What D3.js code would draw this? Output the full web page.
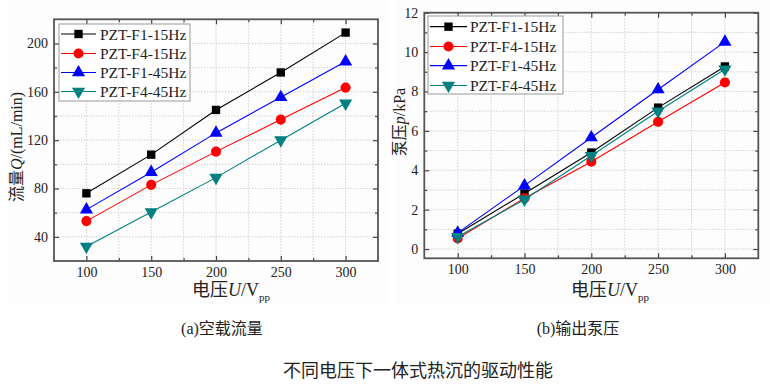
<!DOCTYPE html>
<html>
<head>
<meta charset="utf-8">
<script src="https://cdn.jsdelivr.net/npm/d3@7"></script>
<style>
  body { margin: 0; background: #fff; }
  svg { display: block; }
  text { font-family: "Liberation Serif", "Times New Roman", "Noto Sans CJK SC", serif; fill: #222; }
  .cjk { font-family: "Liberation Serif", "Noto Sans CJK SC", serif; }
</style>
</head>
<body>
<svg id="chart" width="770" height="388"></svg>
<script>
// voltage values (V pp)
var voltages = [100, 150, 200, 250, 300];
var seriesNames = ["PZT-F1-15Hz", "PZT-F4-15Hz", "PZT-F1-45Hz", "PZT-F4-45Hz"];
var seriesColors = ["#000000", "#ff0000", "#0000ff", "#008080"];
var seriesShapes = ["square", "circle", "triangle", "triangleDown"];

// (a) flow Q, mL/min
var flowF1_15 = [76, 108, 145, 176, 209];
var flowF4_15 = [53, 83, 110.5, 137, 163.5];
var flowF1_45 = [62.5, 93.5, 126, 155.5, 185];
var flowF4_45 = [32, 60.5, 89, 120, 150.5];

// (b) pump pressure p, kPa
var pressF1_15 = [0.78, 2.82, 4.9, 7.18, 9.27];
var pressF4_15 = [0.54, 2.58, 4.43, 6.46, 8.46];
var pressF1_45 = [0.82, 3.22, 5.66, 8.1, 10.52];
var pressF4_45 = [0.62, 2.52, 4.74, 7.0, 9.13];

var xMajor = [100, 150, 200, 250, 300];
var xMinor = [75, 125, 175, 225, 275, 325];
var flowMajor = [40, 80, 120, 160, 200];
var flowMinor = [20, 60, 100, 140, 180, 220];
var pressMajor = [0, 2, 4, 6, 8, 10, 12];
var pressMinor = [1, 3, 5, 7, 9, 11];

var svg = d3.select("#chart");

// faint panel backgrounds
svg.append("rect").attr("x", 7).attr("y", 0).attr("width", 379).attr("height", 304).attr("fill", "#fdfdfd");
svg.append("rect").attr("x", 395).attr("y", 0).attr("width", 375).attr("height", 304).attr("fill", "#fdfdfd");

function marker(shape) {
    var t = {square: d3.symbolSquare, circle: d3.symbolCircle, triangle: d3.symbolTriangle, triangleDown: d3.symbolTriangle}[shape];
    var size = shape === "circle" ? 80 : (shape === "square" ? 70 : 75);
    return d3.symbol().type(t).size(size)();
}

function drawPanel(cfg) {
    var g = svg.append("g");
    var x = d3.scaleLinear().domain([75, 325]).range([cfg.left, cfg.right]);
    var y = d3.scaleLinear().domain(cfg.yDomain).range([cfg.bottom, cfg.top]);

    // grid
    var grid = g.append("g").attr("stroke", "#c8c8c8").attr("stroke-width", 0.8).attr("stroke-dasharray", "1.5,1.5");
    xMajor.concat(xMinor).forEach(function(v) {
        if (v <= 75 || v >= 325) return;
        grid.append("line").attr("x1", x(v)).attr("x2", x(v)).attr("y1", cfg.top).attr("y2", cfg.bottom);
    });
    cfg.yMajor.concat(cfg.yMinor).forEach(function(v) {
        if (v <= cfg.yDomain[0] || v >= cfg.yDomain[1]) return;
        grid.append("line").attr("x1", cfg.left).attr("x2", cfg.right).attr("y1", y(v)).attr("y2", y(v));
    });

    var yMinorIn = cfg.yMinor.filter(function(v){ return v > cfg.yDomain[0] && v < cfg.yDomain[1]; });

    // axes with inward ticks
    g.append("g").attr("transform", "translate(0," + cfg.bottom + ")")
        .call(d3.axisBottom(x).tickValues(xMajor).tickSizeInner(-5).tickSizeOuter(0).tickPadding(6));
    g.append("g").attr("transform", "translate(0," + cfg.top + ")")
        .call(d3.axisTop(x).tickValues(xMajor).tickSizeInner(-5).tickSizeOuter(0).tickFormat(""));
    g.append("g").attr("transform", "translate(" + cfg.left + ",0)")
        .call(d3.axisLeft(y).tickValues(cfg.yMajor).tickSizeInner(-5).tickSizeOuter(0).tickPadding(6));
    g.append("g").attr("transform", "translate(" + cfg.right + ",0)")
        .call(d3.axisRight(y).tickValues(cfg.yMajor).tickSizeInner(-5).tickSizeOuter(0).tickFormat(""));
    // minor ticks
    g.append("g").attr("transform", "translate(0," + cfg.bottom + ")")
        .call(d3.axisBottom(x).tickValues(xMinor.slice(1, -1)).tickSizeInner(-3).tickSizeOuter(0).tickFormat(""));
    g.append("g").attr("transform", "translate(0," + cfg.top + ")")
        .call(d3.axisTop(x).tickValues(xMinor.slice(1, -1)).tickSizeInner(-3).tickSizeOuter(0).tickFormat(""));
    g.append("g").attr("transform", "translate(" + cfg.left + ",0)")
        .call(d3.axisLeft(y).tickValues(yMinorIn).tickSizeInner(-3).tickSizeOuter(0).tickFormat(""));
    g.append("g").attr("transform", "translate(" + cfg.right + ",0)")
        .call(d3.axisRight(y).tickValues(yMinorIn).tickSizeInner(-3).tickSizeOuter(0).tickFormat(""));

    g.selectAll(".domain").remove();
    g.selectAll(".tick line").attr("stroke", "#444").attr("stroke-width", 1.2);
    g.selectAll(".tick text").attr("font-family", "Liberation Serif").attr("font-size", 14).attr("fill", "#222");

    // frame
    g.append("rect").attr("x", cfg.left).attr("y", cfg.top)
        .attr("width", cfg.right - cfg.left).attr("height", cfg.bottom - cfg.top)
        .attr("fill", "none").attr("stroke", "#555").attr("stroke-width", 1.8);

    // series
    cfg.series.forEach(function(vals, i) {
        var pts = voltages.map(function(v, j) { return [x(v), y(vals[j])]; });
        g.append("path").attr("d", d3.line()(pts)).attr("fill", "none")
            .attr("stroke", seriesColors[i]).attr("stroke-width", 1.1);
        pts.forEach(function(p) {
            g.append("path").attr("d", marker(seriesShapes[i]))
                .attr("transform", "translate(" + p[0] + "," + p[1] + ")" + (seriesShapes[i] === "triangleDown" ? " rotate(180)" : ""))
                .attr("fill", seriesColors[i]);
        });
    });

    // legend
    var lg = cfg.legend;
    g.append("rect").attr("x", lg.x).attr("y", lg.y).attr("width", lg.w).attr("height", lg.h)
        .attr("fill", "#fff").attr("stroke", "#999").attr("stroke-width", 1);
    seriesNames.forEach(function(name, i) {
        var ry = lg.rows[i];
        g.append("line").attr("x1", lg.lineX0).attr("x2", lg.lineX1).attr("y1", ry).attr("y2", ry)
            .attr("stroke", seriesColors[i]).attr("stroke-width", 1.2);
        g.append("path").attr("d", marker(seriesShapes[i]))
            .attr("transform", "translate(" + ((lg.lineX0 + lg.lineX1) / 2) + "," + ry + ")" + (seriesShapes[i] === "triangleDown" ? " rotate(180)" : ""))
            .attr("fill", seriesColors[i]);
        g.append("text").attr("x", lg.textX).attr("y", ry + 5.5).attr("font-size", 15.5).text(name);
    });

    // y label
    var yl = g.append("text").attr("class", "cjk").attr("font-size", 16).attr("text-anchor", "middle")
        .attr("transform", "translate(" + cfg.yLabelX + "," + cfg.yLabelY + ") rotate(-90)");
    yl.append("tspan").text(cfg.yLabel[0]);
    yl.append("tspan").attr("font-style", "italic").text(cfg.yLabel[1]);
    yl.append("tspan").text(cfg.yLabel[2]);

    // x label
    var xl = g.append("text").attr("class", "cjk").attr("font-size", 18).attr("x", cfg.xLabelX).attr("y", 296);
    xl.append("tspan").text("电压");
    xl.append("tspan").attr("font-style", "italic").text("U");
    xl.append("tspan").text("/V");
    xl.append("tspan").attr("font-size", 11).attr("dy", 5).text("pp");

    // sub caption
    svg.append("text").attr("class", "cjk").attr("font-size", 16).attr("text-anchor", "middle")
        .attr("x", cfg.capX).attr("y", 334).text(cfg.caption);
}

drawPanel({
    left: 54, right: 378, top: 19.3, bottom: 261,
    yDomain: [20, 220], yMajor: flowMajor, yMinor: flowMinor,
    series: [flowF1_15, flowF4_15, flowF1_45, flowF4_45],
    legend: {x: 59, y: 24, w: 131, h: 77, rows: [34, 53.5, 72.5, 91.5], lineX0: 61, lineX1: 96, textX: 100},
    yLabel: ["流量", "Q", "/(mL/min)"], yLabelX: 22, yLabelY: 147,
    xLabelX: 192, capX: 222, caption: "(a)空载流量"
});

drawPanel({
    left: 424.3, right: 758.3, top: 12.7, bottom: 258.3,
    yDomain: [-0.47, 12], yMajor: pressMajor, yMinor: pressMinor,
    series: [pressF1_15, pressF4_15, pressF1_45, pressF4_45],
    legend: {x: 428, y: 16, w: 135, h: 78, rows: [26.7, 46.5, 65.7, 85.5], lineX0: 430, lineX1: 467, textX: 470},
    yLabel: ["泵压", "p", "/kPa"], yLabelX: 405, yLabelY: 122,
    xLabelX: 571, capX: 578, caption: "(b)输出泵压"
});

svg.append("text").attr("class", "cjk").attr("font-size", 18).attr("text-anchor", "middle")
    .attr("x", 418).attr("y", 377).text("不同电压下一体式热沉的驱动性能");
</script>
</body>
</html>
